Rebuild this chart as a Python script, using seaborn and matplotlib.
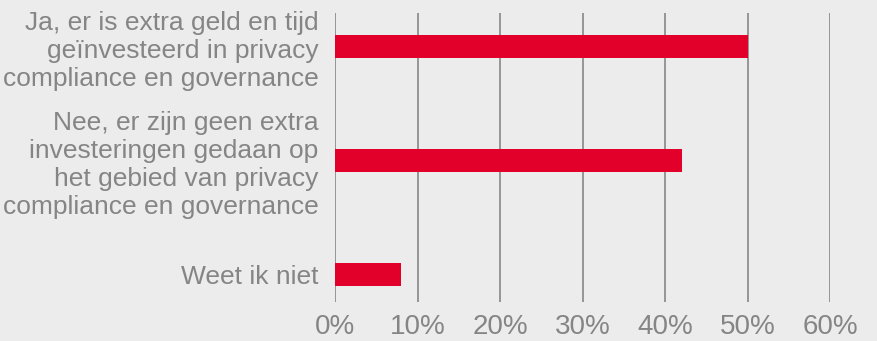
import matplotlib
matplotlib.use("Agg")
import matplotlib.pyplot as plt
import seaborn as sns
import pandas as pd
from matplotlib.ticker import PercentFormatter

categories = [
    "Ja, er is extra geld en tijd\ngeïnvesteerd in privacy\ncompliance en governance",
    "Nee, er zijn geen extra\ninvesteringen gedaan op\nhet gebied van privacy\ncompliance en governance",
    "Weet ik niet",
]
values = [0.50, 0.42, 0.08]
xticks = [0, 0.1, 0.2, 0.3, 0.4, 0.5, 0.6]

BG = "#ebeceb"
BAR = "#e2002b"
GRID = "#8e8e8e"
TXT = "#858585"

sns.set_theme(style="white")
plt.rcParams["font.family"] = ["Liberation Sans", "DejaVu Sans"]

df = pd.DataFrame({"cat": categories, "val": values})

fig = plt.figure(figsize=(8.77, 3.41), dpi=100, facecolor=BG)
ax = fig.add_axes([335/877, 1-302/341, (830-335)/877, (302-12.5)/341])
ax.set_facecolor(BG)

sns.barplot(data=df, x="val", y="cat", orient="h", color=BAR, width=0.2,
            saturation=1, ax=ax, zorder=3, linewidth=0, edgecolor=BAR)

ax.set_xlim(0, 0.6)
ax.set_ylim(2.24, -0.3)
ax.set_xticks(xticks)
ax.xaxis.set_major_formatter(PercentFormatter(1.0, decimals=0))
ax.grid(axis="x", color=GRID, linewidth=1.3, zorder=0)
ax.grid(axis="y", visible=False)
for s in ax.spines.values():
    s.set_visible(False)
ax.set_xlabel("")
ax.set_ylabel("")
ax.tick_params(axis="x", length=0, pad=9, labelsize=20, labelcolor=TXT)
ax.tick_params(axis="y", length=0, pad=12, labelsize=19, labelcolor=TXT)
for t in ax.get_yticklabels():
    t.set_linespacing(1.2)
    t.set_horizontalalignment("right")
    t.set_multialignment("right")

fig.savefig("out.png", dpi=100, facecolor=BG)
